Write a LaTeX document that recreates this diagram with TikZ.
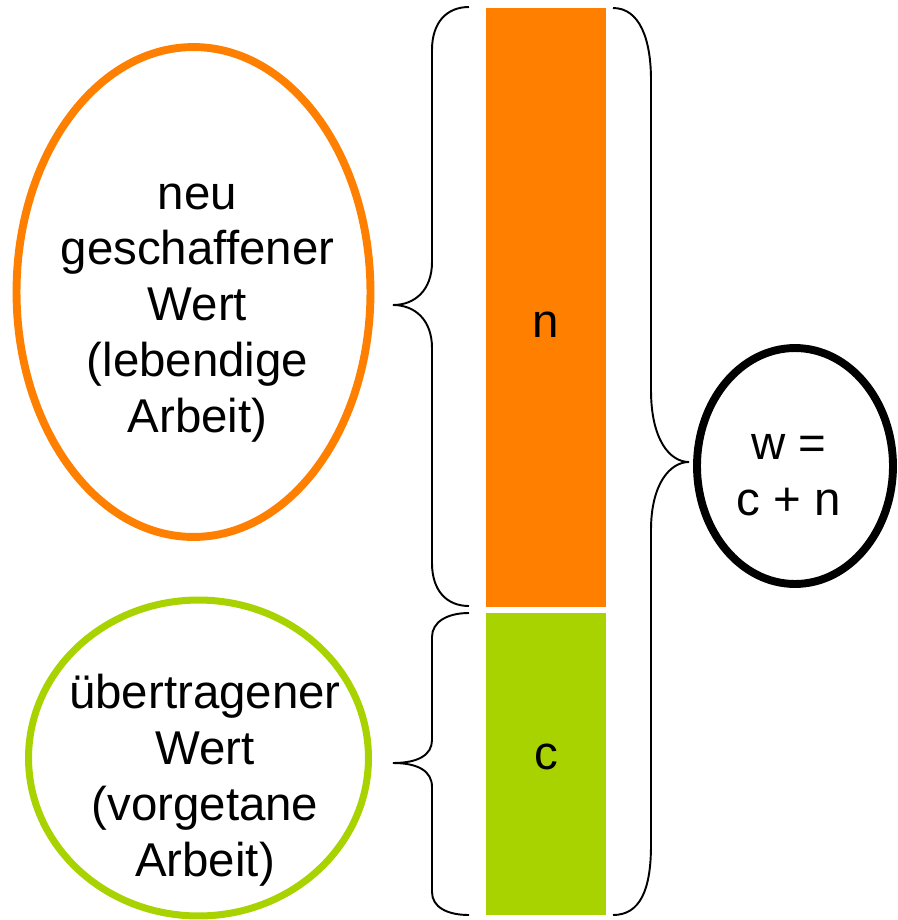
\documentclass[tikz,border=0pt]{standalone}
\usepackage{fontspec}
\setmainfont{Liberation Sans}
\usepackage{tikz}
\usetikzlibrary{shapes.geometric}
\definecolor{wertorange}{RGB}{255,127,0}
\definecolor{wertgreen}{RGB}{168,210,0}

\begin{document}
\begin{tikzpicture}[x=0.02cm,y=-0.02cm,oval/.style={ellipse,draw,inner sep=0pt},brace/.style={line width=1.1pt},wordtext/.style={align=center}]
	\tikzstyle{every node}=[font=\fontsize{27}{31.8}\selectfont]
	\useasboundingbox (0,0) rectangle (898,920);
	\fill[wertorange] (486,8) rectangle (606,607);
	\fill[wertgreen] (486,613) rectangle (606,915);
	\draw
		(193.5,292) node[oval,draw=wertorange,line width=4.5pt,minimum width=7.08cm,minimum height=9.8cm](neu) {}
		(198.5,758) node[oval,draw=wertgreen,line width=4pt,minimum width=6.8cm,minimum height=6.32cm](alt) {}
		(795,466) node[oval,line width=4.5pt,minimum width=3.92cm,minimum height=4.72cm](summe) {};
	\node[wordtext] (neutext) at (197.5,313) {neu\\geschaffener\\Wert\\(lebendige\\Arbeit)};
	\node[wordtext] (alttext) at (205,780) {übertragener\\Wert\\(vorgetane\\Arbeit)};
	\node[wordtext] (summetext) at (789,475) {w =\\c + n};
	\node (n) at (546,325) {n};
	\node (c) at (546,757) {c};
	\draw[brace] (469,7) .. controls (447,7) and (432,22) .. (432,50) -- (432,262) .. controls (432,290) and (415,305) .. (393,305) .. controls (415,305) and (432,320) .. (432,348) -- (432,563) .. controls (432,591) and (447,606) .. (469,606);
	\draw[brace] (469,613) .. controls (447,613) and (432,622) .. (432,637) -- (432,740) .. controls (432,755) and (418,763) .. (393,763) .. controls (418,763) and (432,771) .. (432,787) -- (432,892) .. controls (432,907) and (447,915) .. (469,915);
	\draw[brace] (613,8) .. controls (640,8) and (651,40) .. (651,80) -- (651,390) .. controls (651,440) and (670,462) .. (689,462) .. controls (670,462) and (651,484) .. (651,530) -- (651,845) .. controls (651,890) and (640,915) .. (613,915);
\end{tikzpicture}
\end{document}
